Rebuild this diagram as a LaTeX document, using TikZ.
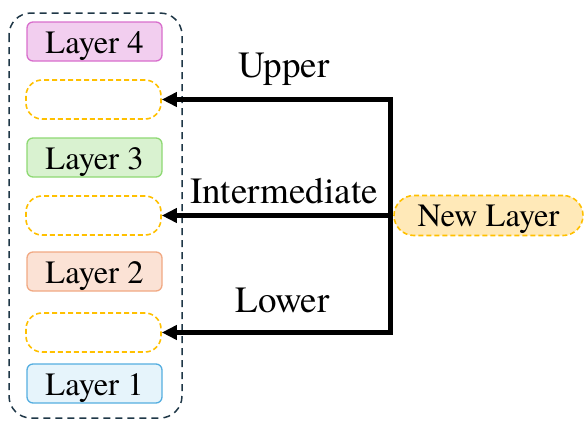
\documentclass[tikz,border=0pt]{standalone}
\usepackage{fontspec}
\setmainfont{Liberation Serif}
\newfontfamily\tms{texgyretermes-regular.otf}
\usetikzlibrary{arrows.meta}
\definecolor{l4f}{HTML}{F2CEEF}\definecolor{l4d}{HTML}{D86ECC}
\definecolor{l3f}{HTML}{D9F2D0}\definecolor{l3d}{HTML}{8ED973}
\definecolor{l2f}{HTML}{FBE2D5}\definecolor{l2d}{HTML}{F1A983}
\definecolor{l1f}{HTML}{E6F4FB}\definecolor{l1d}{HTML}{55AEE0}
\definecolor{gold}{HTML}{FFC000}\definecolor{goldf}{HTML}{FFE9B8}
\definecolor{slate}{HTML}{1F3747}
\begin{document}
\begin{tikzpicture}[x=1pt,y=-1pt,
  layerbox/.style={rounded corners=6pt, line width=1.3pt, minimum width=135pt, minimum height=39pt,
    inner sep=0pt, text height=24pt, text depth=0pt, font=\tms\fontsize{32.5}{32.5}\selectfont},
  slotbox/.style={rounded corners=16pt, draw=gold, dash pattern=on 5pt off 3pt, line width=1.6pt,
    minimum width=135pt, minimum height=39pt, inner sep=0pt},
  lbl/.style={anchor=base, font=\tms\fontsize{37}{37}\selectfont, inner sep=0pt},
  arr/.style={line width=4.2pt, line join=miter, -{Triangle[length=15pt,width=14pt]}}]
\useasboundingbox (0,0) rectangle (584,421);
\draw[slate, line width=1.5pt, dash pattern=on 7pt off 5pt, rounded corners=22pt] (9,13) rectangle (182,418);
\node[layerbox, fill=l4f, draw=l4d] (l4) at (94.5,41.5) {Layer 4};
\node[slotbox] (e1) at (93.5,99.5) {};
\node[layerbox, fill=l3f, draw=l3d] (l3) at (94.5,157.5) {Layer 3};
\node[slotbox] (e2) at (93.5,215.5) {};
\node[layerbox, fill=l2f, draw=l2d] (l2) at (94.5,271.5) {Layer 2};
\node[slotbox] (e3) at (93.5,332.5) {};
\node[layerbox, fill=l1f, draw=l1d] (l1) at (94.5,383.5) {Layer 1};
\node[rounded corners=20pt, draw=gold, fill=goldf, dash pattern=on 5pt off 3pt, line width=1.6pt,
  minimum width=189pt, minimum height=40pt, inner sep=0pt, text height=22pt, text depth=0pt,
  font=\tms\fontsize{32.5}{32.5}\selectfont] (nl) at (488.5,215.5) {New Layer};
\coordinate (top) at (390.5,99.5);
\coordinate (bot) at (390.5,332.5);
\draw[line width=4.2pt, line join=miter, {Triangle[length=15pt,width=14pt]}-{Triangle[length=15pt,width=14pt]}]
  (e1.east) -- (top) -- (bot) -- (e3.east);
\draw[arr] (nl.west) -- (e2.east);
\node[lbl] (up) at (284,77) {Upper};
\node[lbl] (mid) at (284,203) {Intermediate};
\node[lbl] (lo) at (282.5,312) {Lower};
\end{tikzpicture}
\end{document}
